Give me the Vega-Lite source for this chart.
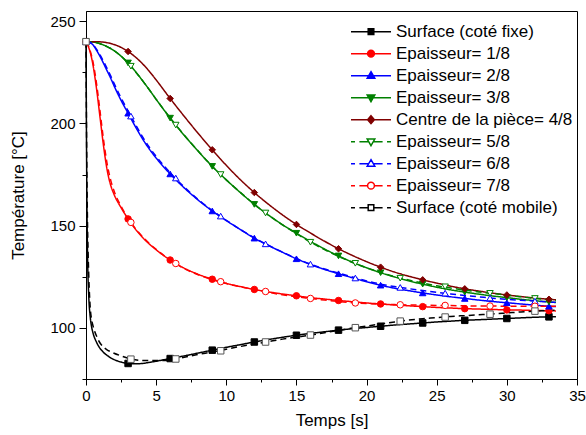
{
  "$schema": "https://vega.github.io/schema/vega-lite/v6.json",
  "width": 491,
  "height": 368,
  "autosize": {"type": "none"},
  "padding": {"left": 86, "top": 11, "right": 9, "bottom": 56},
  "background": "white",
  "config": {
    "view": {"stroke": "black", "strokeWidth": 1},
    "font": "Liberation Sans",
    "axis": {
      "grid": false, "domainColor": "black", "tickColor": "black", "labelColor": "black", "titleColor": "black",
      "labelFont": "Liberation Sans", "titleFont": "Liberation Sans", "labelFontSize": 15, "titleFontSize": 17,
      "titleFontWeight": "normal", "domainWidth": 1, "tickWidth": 1, "labelOverlap": false, "labelFlush": false
    }
  },
  "datasets": {
    "curves": [
      {"t":0,"f":240,"m":240,"e1":240,"e2":240,"e3":240,"c":240,"e5":240,"e6":240,"e7":240},
      {"t":0.05,"f":175,"m":185},
      {"t":0.1,"f":140,"m":155},
      {"t":0.2,"f":115,"m":125,"e1":237,"e2":239.7,"e6":239.8,"e7":237.5},
      {"t":0.3,"f":105.5,"m":110},
      {"t":0.4,"f":100.5,"m":104,"e1":232,"e2":239,"e6":239.2,"e7":233},
      {"t":0.5,"f":97.5,"m":101,"e1":228.5,"e2":238.4,"e3":239.8,"c":240,"e5":239.8,"e6":238.6,"e7":230},
      {"t":0.75,"f":93,"m":96,"e1":217,"e2":235.8,"e6":236.3,"e7":219.5},
      {"t":1,"f":90,"m":92.6,"e1":203,"e2":232.8,"e3":239,"c":239.9,"e5":239,"e6":233.5,"e7":206},
      {"t":1.25,"f":88,"m":90.6,"e1":189,"e2":229.4,"e6":230.3,"e7":192},
      {"t":1.5,"f":86.6,"m":89.3,"e1":177.5,"e2":225.8,"e3":237.6,"c":239.5,"e5":237.6,"e6":226.9,"e7":180.5},
      {"t":1.75,"f":85.4,"m":88.4,"e1":170,"e2":222.3,"e6":223.4,"e7":172.5},
      {"t":2,"f":84.5,"m":87.6,"e1":165.3,"e2":218.4,"e3":235.6,"c":238.6,"e5":235.6,"e6":219.6,"e7":167},
      {"t":2.5,"f":83.3,"m":86.3,"e1":158.8,"e2":211.3,"e3":232.9,"c":237.2,"e5":232.9,"e6":212.5,"e7":159.5},
      {"t":3,"f":82.6,"m":85.1,"e1":153.3,"e2":205,"e3":229.6,"c":235.2,"e5":229.5,"e6":206.1,"e7":153.6},
      {"t":3.5,"f":82.4,"m":84.4,"e1":148.5,"e2":198.7,"e3":225.6,"c":232.6,"e5":225.5,"e6":199.8,"e7":148.8},
      {"t":4,"f":82.6,"m":84.1,"e1":144.5,"e2":192.8,"e3":221.2,"c":229.4,"e5":221.2,"e6":193.8,"e7":144.8},
      {"t":4.5,"f":83.1,"m":84,"e1":141.1,"e2":187.6,"e3":216.6,"c":225.6,"e5":216.6,"e6":188.5,"e7":141.4},
      {"t":5,"f":83.7,"m":84,"e1":138.2,"e2":183.1,"e3":211.8,"c":221.3,"e5":211.8,"e6":183.9,"e7":138.4},
      {"t":6,"f":85,"m":84.3,"e1":133.2,"e2":175.3,"e3":202.6,"c":212.2,"e5":202.7,"e6":175.9,"e7":133.2},
      {"t":7,"f":86.3,"m":85.6,"e1":129.2,"e2":168.5,"e3":194.2,"c":203.5,"e5":194.3,"e6":168.9,"e7":129},
      {"t":8,"f":87.7,"m":87,"e1":126.2,"e2":162.5,"e3":186.4,"c":195.1,"e5":186.5,"e6":162.8,"e7":126},
      {"t":9,"f":89.1,"m":88.2,"e1":123.8,"e2":157.2,"e3":179,"c":187.1,"e5":179,"e6":157.4,"e7":123.6},
      {"t":10,"f":90.5,"m":89.6,"e1":121.8,"e2":152.5,"e3":172.4,"c":179.5,"e5":172.4,"e6":152.6,"e7":121.7},
      {"t":11,"f":91.8,"m":90.9,"e1":120.2,"e2":148.1,"e3":166.2,"c":172.5,"e5":166.3,"e6":148.2,"e7":120.1},
      {"t":12,"f":93.1,"m":92.1,"e1":118.8,"e2":143.9,"e3":160.4,"c":166.2,"e5":160.5,"e6":144,"e7":118.7},
      {"t":13,"f":94.3,"m":93.3,"e1":117.6,"e2":140.3,"e3":155.2,"c":160.5,"e5":155.2,"e6":140.4,"e7":117.4},
      {"t":14,"f":95.4,"m":94.5,"e1":116.6,"e2":137,"e3":150.5,"c":155.3,"e5":150.4,"e6":137.1,"e7":116.2},
      {"t":15,"f":96.4,"m":95.5,"e1":115.7,"e2":133.8,"e3":146.3,"c":150.6,"e5":146.1,"e6":134,"e7":115.2},
      {"t":16,"f":97.3,"m":96.5,"e1":114.8,"e2":131,"e3":142.3,"c":146.4,"e5":141.9,"e6":131.2,"e7":114.4},
      {"t":17,"f":98.1,"m":97.6,"e1":114.1,"e2":128.6,"e3":138.6,"c":142.4,"e5":138.3,"e6":128.8,"e7":113.6},
      {"t":18,"f":98.9,"m":98.8,"e1":113.4,"e2":126.5,"e3":135.2,"c":138.7,"e5":135,"e6":126.8,"e7":112.9},
      {"t":19,"f":99.6,"m":99.9,"e1":112.8,"e2":124.5,"e3":132.1,"c":135.4,"e5":132,"e6":124.9,"e7":112.3},
      {"t":20,"f":100.2,"m":100.9,"e1":112.2,"e2":122.6,"e3":129.4,"c":132.4,"e5":129.4,"e6":123,"e7":111.9},
      {"t":21,"f":100.8,"m":101.9,"e1":111.7,"e2":120.9,"e3":127,"c":129.7,"e5":127.1,"e6":121.4,"e7":111.6},
      {"t":22,"f":101.4,"m":102.9,"e1":111.2,"e2":119.4,"e3":124.9,"c":127.3,"e5":125.1,"e6":120.2,"e7":111.4},
      {"t":23,"f":101.9,"m":103.8,"e1":110.8,"e2":118.2,"e3":123,"c":125.3,"e5":123.4,"e6":119.2,"e7":111.2},
      {"t":24,"f":102.4,"m":104.5,"e1":110.4,"e2":117.1,"e3":121.4,"c":123.5,"e5":121.9,"e6":118.3,"e7":111.1},
      {"t":25,"f":102.9,"m":105,"e1":110,"e2":116.1,"e3":119.9,"c":121.9,"e5":120.6,"e6":117.4,"e7":111},
      {"t":26,"f":103.3,"m":105.6,"e1":109.7,"e2":115.2,"e3":118.6,"c":120.4,"e5":119.5,"e6":116.6,"e7":110.9},
      {"t":27,"f":103.7,"m":106,"e1":109.4,"e2":114.4,"e3":117.5,"c":119.1,"e5":118.5,"e6":115.9,"e7":110.8},
      {"t":28,"f":104,"m":106.4,"e1":109.2,"e2":113.6,"e3":116.5,"c":118,"e5":117.6,"e6":115.2,"e7":110.7},
      {"t":29,"f":104.3,"m":106.8,"e1":109,"e2":112.9,"e3":115.6,"c":117,"e5":116.8,"e6":114.5,"e7":110.7},
      {"t":30,"f":104.6,"m":107.3,"e1":108.8,"e2":112.3,"e3":114.8,"c":116.1,"e5":116,"e6":114,"e7":110.6},
      {"t":31,"f":104.9,"m":107.8,"e1":108.7,"e2":111.7,"e3":114,"c":115.3,"e5":115.2,"e6":113.5,"e7":110.6},
      {"t":32,"f":105.2,"m":108.2,"e1":108.5,"e2":111.1,"e3":113.3,"c":114.6,"e5":114.4,"e6":113.1,"e7":110.6},
      {"t":33,"f":105.4,"m":108.5,"e1":108.4,"e2":110.6,"e3":112.7,"c":114,"e5":113.7,"e6":112.7,"e7":110.6},
      {"t":33.5,"f":105.5,"m":108.7,"e1":108.3,"e2":110.4,"e3":112.4,"c":113.7,"e5":113.4,"e6":112.5,"e7":110.6}
    ],
    "marks": [
      {"t":0,"e5":240,"e6":240,"e7":240,"m":240},
      {"t":3,"f":82.6,"e1":153.3,"e2":205,"e3":229.6,"c":235.2},
      {"t":3.2,"e5":228,"e6":203.6,"e7":151.6,"m":84.7},
      {"t":6,"f":85,"e1":133.2,"e2":175.3,"e3":202.6,"c":212.2},
      {"t":6.4,"e5":199.2,"e6":173.3,"e7":131.5,"m":84.8},
      {"t":9,"f":89.1,"e1":123.8,"e2":157.2,"e3":179,"c":187.1},
      {"t":9.6,"e5":175,"e6":154.7,"e7":122.6,"m":88.8},
      {"t":12,"f":93.1,"e1":118.8,"e2":143.9,"e3":160.4,"c":166.2},
      {"t":12.8,"e5":156.2,"e6":141.1,"e7":117.8,"m":93.1},
      {"t":15,"f":96.4,"e1":115.7,"e2":133.8,"e3":146.3,"c":150.6},
      {"t":16,"e5":141.9,"e6":131.2,"e7":114.4,"m":96.5},
      {"t":18,"f":98.9,"e1":113.4,"e2":126.5,"e3":135.2,"c":138.7},
      {"t":19.2,"e5":131.6,"e6":124.4,"e7":112.2,"m":100.1},
      {"t":21,"f":100.8,"e1":111.7,"e2":120.9,"e3":127,"c":129.7},
      {"t":22.4,"e5":124.3,"e6":119.8,"e7":111.3,"m":103.3},
      {"t":24,"f":102.4,"e1":110.4,"e2":117.1,"e3":121.4,"c":123.5},
      {"t":25.6,"e5":120.1,"e6":117,"e7":111,"m":105.3},
      {"t":27,"f":103.7,"e1":109.4,"e2":114.4,"e3":117.5,"c":119.1},
      {"t":28.8,"e5":116.9,"e6":114.6,"e7":110.7,"m":106.7},
      {"t":30,"f":104.6,"e1":108.8,"e2":112.3,"e3":114.8,"c":116.1},
      {"t":32,"e5":114.4,"e6":113.1,"e7":110.6,"m":108.2},
      {"t":33,"f":105.4,"e1":108.4,"e2":110.6,"e3":112.7,"c":114}
    ]
  },
  "encoding": {
    "x": {
      "field": "t", "type": "quantitative",
      "scale": {"domain": [0, 35], "nice": false},
      "axis": {
        "title": "Temps [s]",
        "values": [0, 2.5, 5, 7.5, 10, 12.5, 15, 17.5, 20, 22.5, 25, 27.5, 30, 32.5, 35],
        "labelExpr": "datum.value % 5 == 0 ? datum.label : ''",
        "tickSize": {"condition": {"test": "datum.value % 5 != 0", "value": 3}, "value": 6},
        "labelPadding": 3, "titlePadding": 9
      }
    },
    "y": {
      "field": "v", "type": "quantitative",
      "scale": {"domain": [75, 255], "nice": false, "zero": false},
      "axis": {
        "title": "Température [°C]",
        "values": [75, 100, 125, 150, 175, 200, 225, 250],
        "labelExpr": "datum.value % 50 == 0 ? datum.label : ''",
        "tickSize": {"condition": {"test": "datum.value % 50 != 0", "value": 4}, "value": 7},
        "labelPadding": 4, "titlePadding": 22
      }
    }
  },
  "layer": [
    {
      "data": {"name": "curves"},
      "transform": [
        {"fold": ["f", "e1", "e2", "e3", "c", "e5", "e6", "e7", "m"], "as": ["s", "v"]},
        {"filter": "isValid(datum.v)"}
      ],
      "mark": {"type": "line", "interpolate": "monotone", "strokeWidth": 1.5},
      "encoding": {
        "color": {
          "field": "s", "type": "nominal", "legend": null,
          "scale": {"domain": ["f", "e1", "e2", "e3", "c", "e5", "e6", "e7", "m"],
                    "range": ["#000000", "#ff0000", "#0000ff", "#008000", "#800000", "#008000", "#0000ff", "#ff0000", "#000000"]}
        },
        "strokeDash": {
          "field": "s", "type": "nominal", "legend": null,
          "scale": {"domain": ["f", "e1", "e2", "e3", "c", "e5", "e6", "e7", "m"],
                    "range": [[1, 0], [1, 0], [1, 0], [1, 0], [1, 0], [6, 4], [6, 4], [6, 4], [6, 4]]}
        }
      }
    },
    {
      "data": {"name": "marks"},
      "transform": [
        {"fold": ["f", "e1", "e2", "e3", "c", "e5", "e6", "e7", "m"], "as": ["s", "v"]},
        {"filter": "isValid(datum.v)"}
      ],
      "mark": {"type": "point", "filled": true, "opacity": 1, "size": 42, "strokeWidth": 1},
      "encoding": {
        "shape": {
          "field": "s", "type": "nominal", "legend": null,
          "scale": {"domain": ["f", "e1", "e2", "e3", "c", "e5", "e6", "e7", "m"],
                    "range": ["square", "circle", "triangle-up", "triangle-down", "diamond", "triangle-down", "triangle-up", "circle", "square"]}
        },
        "fill": {
          "field": "s", "type": "nominal", "legend": null,
          "scale": {"domain": ["f", "e1", "e2", "e3", "c", "e5", "e6", "e7", "m"],
                    "range": ["#000000", "#ff0000", "#0000ff", "#008000", "#800000", "#ffffff", "#ffffff", "#ffffff", "#ffffff"]}
        },
        "stroke": {
          "field": "s", "type": "nominal", "legend": null,
          "scale": {"domain": ["f", "e1", "e2", "e3", "c", "e5", "e6", "e7", "m"],
                    "range": ["#000000", "#ff0000", "#0000ff", "#008000", "#800000", "#008000", "#0000ff", "#ff0000", "#555555"]}
        }
      }
    },
    {
      "data": {"name": "marks"},
      "transform": [
        {"fold": ["f", "e1", "e2", "e3", "c", "e5", "e6", "e7", "m"], "as": ["s", "v"]},
        {"filter": "datum.t < 0"}
      ],
      "mark": {"type": "point", "filled": true, "opacity": 1, "size": 1600, "strokeWidth": 1.5},
      "encoding": {
        "shape": {
          "field": "s", "type": "nominal",
          "scale": {"domain": ["f", "e1", "e2", "e3", "c", "e5", "e6", "e7", "m"],
                    "range": [
                      "M-1,0H1M-0.14,-0.14H0.14V0.14H-0.14Z",
                      "M-1,0H1M-0.17,0A0.17,0.17,0,1,0,0.17,0A0.17,0.17,0,1,0,-0.17,0Z",
                      "M-1,0H1M0,-0.2L0.19,0.13H-0.19Z",
                      "M-1,0H1M0,0.2L0.19,-0.13H-0.19Z",
                      "M-1,0H1M0,-0.2L0.17,0L0,0.2L-0.17,0Z",
                      "M-1,0H-0.8M-0.58,0H-0.12M0.12,0H0.58M0.8,0H1M0,0.2L0.19,-0.13H-0.19Z",
                      "M-1,0H-0.8M-0.58,0H-0.12M0.12,0H0.58M0.8,0H1M0,-0.2L0.19,0.13H-0.19Z",
                      "M-1,0H-0.8M-0.58,0H-0.17M0.17,0H0.58M0.8,0H1M-0.17,0A0.17,0.17,0,1,0,0.17,0A0.17,0.17,0,1,0,-0.17,0Z",
                      "M-1,0H-0.8M-0.58,0H-0.14M0.14,0H0.58M0.8,0H1M-0.14,-0.14H0.14V0.14H-0.14Z"
                    ]},
          "legend": {
            "title": null, "orient": "none", "legendX": 264, "legendY": 10, "padding": 0,
            "symbolSize": 1600, "symbolStrokeWidth": 1.5, "labelFontSize": 17, "labelFont": "Liberation Sans",
            "labelColor": "black", "labelOffset": 4, "clipHeight": 21.3, "rowPadding": 0, "labelLimit": 400,
            "labelExpr": "datum.value == 'f' ? 'Surface (coté fixe)' : datum.value == 'e1' ? 'Epaisseur= 1/8' : datum.value == 'e2' ? 'Epaisseur= 2/8' : datum.value == 'e3' ? 'Epaisseur= 3/8' : datum.value == 'c' ? 'Centre de la pièce= 4/8' : datum.value == 'e5' ? 'Epaisseur= 5/8' : datum.value == 'e6' ? 'Epaisseur= 6/8' : datum.value == 'e7' ? 'Epaisseur= 7/8' : 'Surface (coté mobile)'"
          }
        },
        "fill": {
          "field": "s", "type": "nominal",
          "scale": {"domain": ["f", "e1", "e2", "e3", "c", "e5", "e6", "e7", "m"],
                    "range": ["#000000", "#ff0000", "#0000ff", "#008000", "#800000", "#ffffff", "#ffffff", "#ffffff", "#ffffff"]},
          "legend": {
            "title": null, "orient": "none", "legendX": 264, "legendY": 10, "padding": 0,
            "symbolSize": 1600, "symbolStrokeWidth": 1.5, "labelFontSize": 17, "labelFont": "Liberation Sans",
            "labelColor": "black", "labelOffset": 4, "clipHeight": 21.3, "rowPadding": 0, "labelLimit": 400,
            "labelExpr": "datum.value == 'f' ? 'Surface (coté fixe)' : datum.value == 'e1' ? 'Epaisseur= 1/8' : datum.value == 'e2' ? 'Epaisseur= 2/8' : datum.value == 'e3' ? 'Epaisseur= 3/8' : datum.value == 'c' ? 'Centre de la pièce= 4/8' : datum.value == 'e5' ? 'Epaisseur= 5/8' : datum.value == 'e6' ? 'Epaisseur= 6/8' : datum.value == 'e7' ? 'Epaisseur= 7/8' : 'Surface (coté mobile)'"
          }
        },
        "stroke": {
          "field": "s", "type": "nominal",
          "scale": {"domain": ["f", "e1", "e2", "e3", "c", "e5", "e6", "e7", "m"],
                    "range": ["#000000", "#ff0000", "#0000ff", "#008000", "#800000", "#008000", "#0000ff", "#ff0000", "#000000"]},
          "legend": {
            "title": null, "orient": "none", "legendX": 264, "legendY": 10, "padding": 0,
            "symbolSize": 1600, "symbolStrokeWidth": 1.5, "labelFontSize": 17, "labelFont": "Liberation Sans",
            "labelColor": "black", "labelOffset": 4, "clipHeight": 21.3, "rowPadding": 0, "labelLimit": 400,
            "labelExpr": "datum.value == 'f' ? 'Surface (coté fixe)' : datum.value == 'e1' ? 'Epaisseur= 1/8' : datum.value == 'e2' ? 'Epaisseur= 2/8' : datum.value == 'e3' ? 'Epaisseur= 3/8' : datum.value == 'c' ? 'Centre de la pièce= 4/8' : datum.value == 'e5' ? 'Epaisseur= 5/8' : datum.value == 'e6' ? 'Epaisseur= 6/8' : datum.value == 'e7' ? 'Epaisseur= 7/8' : 'Surface (coté mobile)'"
          }
        }
      }
    }
  ],
  "resolve": {
    "scale": {"color": "independent", "shape": "independent", "fill": "independent", "stroke": "independent", "strokeDash": "independent"}
  }
}
